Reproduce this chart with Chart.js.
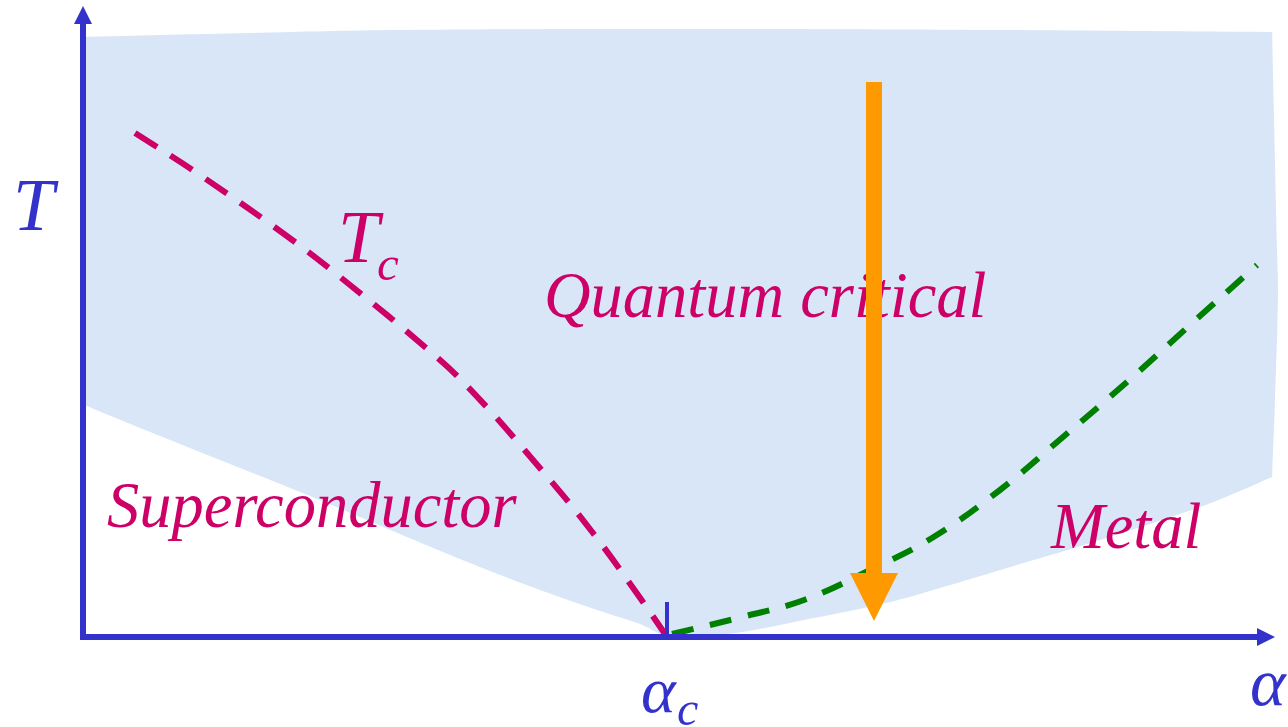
<!DOCTYPE html>
<html>
<head>
<meta charset="utf-8">
<script src="https://cdn.jsdelivr.net/npm/chart.js@4/dist/chart.umd.min.js"></script>
<style>
  html, body { margin: 0; padding: 0; background: #fff; }
  #wrap { width: 1288px; height: 727px; position: relative; }
</style>
</head>
<body>
<div id="wrap"><canvas id="chart"></canvas></div>
<script>
// Schematic phase diagram: alpha on x, T on y (arbitrary units, origin at the axes corner)
const ALPHA_C = 5.83;

// quantum critical region (closed outline, clockwise from top-left)
const qcX = [0.02, 0.05, 1.66, 3.16, 6.16, 9.16, 11.85, 11.88, 11.882, 11.93, 11.94, 11.91, 11.882, 11.88, 11.85,
  11.56, 11.16, 10.16, 9.23, 8.56, 8.02, 7.20, 6.58, 6.16, 5.81,
  5.56, 5.16, 4.56, 3.86, 3.16, 2.26, 1.16, 0.03, 0.0, 0.0, 0.0];
const qcT = [6.00, 6.003, 6.04, 6.07, 6.08, 6.07, 6.05, 6.05, 6.00, 3.87, 3.44, 2.37, 1.64, 1.60, 1.587,
  1.46, 1.30, 0.97, 0.69, 0.49, 0.34, 0.17, 0.05, 0.01, 0.02,
  0.13, 0.26, 0.47, 0.74, 1.03, 1.41, 1.85, 2.31, 2.34, 4.20, 5.97];

// Tc line (superconductor boundary)
const tcX = [0.51, 1.16, 2.11, 2.66, 3.41, 3.84, 4.55, 5.09, 5.59, 5.81];
const tcT = [5.04, 4.62, 3.95, 3.52, 2.90, 2.50, 1.70, 1.04, 0.35, 0.03];

// metal crossover line
const mX = [5.88, 6.58, 7.20, 7.86, 8.48, 9.16, 9.79, 10.43, 11.06, 11.73];
const mT = [0.03, 0.20, 0.37, 0.67, 0.99, 1.47, 2.00, 2.55, 3.12, 3.72];

// orange cooling arrow at fixed alpha
const ARROW_X = 7.90;
const arrowT = [5.55, 0.62];
const headX = [7.66, 8.14, 7.90];
const headT = [0.64, 0.64, 0.16];

// axes
const xAxisX = [-0.04, 11.75];
const yAxisT = [-0.03, 6.15];
const xHeadX = [11.73, 11.73, 11.91];
const xHeadT = [0.09, -0.09, 0.0];
const yHeadX = [-0.10, 0.08, -0.01];
const yHeadT = [6.13, 6.13, 6.31];
const tickT = [0.35, 0.0];

const pts = (xs, ys) => xs.map((x, i) => ({ x, y: ys[i] }));

const BLUE = '#3333cc', MAG = '#cc0066', GREEN = '#008000', ORANGE = '#ff9900', FILL = '#d9e6f8';
const SERIF = "'Liberation Serif', 'Times New Roman', Times, serif";

// text labels, anchored in data units (left, baseline)
const labels = [
  { t: 'T', x: -0.71, y: 4.07, size: 74, color: BLUE },
  { t: 'T', x: 2.54, y: 3.75, size: 74, color: MAG, sub: 'c', subSize: 49, dx: 39, dy: 18 },
  { t: 'Quantum critical', x: 4.60, y: 3.20, size: 64.5, color: MAG },
  { t: 'Superconductor', x: 0.23, y: 1.10, size: 64.5, color: MAG },
  { t: 'Metal', x: 9.67, y: 0.89, size: 64.5, color: MAG },
  { t: '\u03b1', x: 5.57, y: -0.75, size: 66, color: BLUE, sub: 'c', subSize: 48, dx: 36, dy: 13 },
  { t: '\u03b1', x: 11.66, y: -0.68, size: 68, color: BLUE },
];

const labelPlugin = {
  id: 'labels',
  afterDatasetDraw(chart, args) {
    if (args.index !== 0) return;
    const { ctx, scales: { x, y } } = chart;
    ctx.save();
    ctx.textAlign = 'left';
    ctx.textBaseline = 'alphabetic';
    labels.forEach((l) => {
      const px = x.getPixelForValue(l.x), py = y.getPixelForValue(l.y);
      ctx.fillStyle = l.color;
      ctx.font = `italic ${l.size}px ${SERIF}`;
      ctx.fillText(l.t, px, py);
      if (l.sub) {
        ctx.font = `italic ${l.subSize}px ${SERIF}`;
        ctx.fillText(l.sub, px + l.dx, py + l.dy);
      }
    });
    ctx.restore();
  },
};

const line = (data, color, width, extra = {}) => ({
  data, borderColor: color, backgroundColor: color, borderWidth: width,
  showLine: true, pointRadius: 0, fill: false, tension: 0, ...extra,
});

function draw() {
  new Chart(document.getElementById('chart'), {
    type: 'scatter',
    data: {
      datasets: [
        line(pts(qcX, qcT), FILL, 0, { fill: 'shape', backgroundColor: FILL, tension: 0.4, order: 10 }),
        line(pts(tcX, tcT), MAG, 6, { borderDash: [26, 16], tension: 0.4, order: 5, borderCapStyle: 'butt' }),
        line(pts(mX, mT), GREEN, 6, { borderDash: [22, 17], tension: 0.4, order: 5, borderCapStyle: 'butt' }),
        line(pts([ALPHA_C, ALPHA_C], tickT), BLUE, 4, { order: 4 }),
        line(pts(xAxisX, [0, 0]), BLUE, 6, { order: 3 }),
        line(pts([-0.01, -0.01], yAxisT), BLUE, 6, { order: 3 }),
        line(pts(xHeadX, xHeadT), BLUE, 0, { fill: 'shape', order: 3 }),
        line(pts(yHeadX, yHeadT), BLUE, 0, { fill: 'shape', order: 3 }),
        line(pts([ARROW_X, ARROW_X], arrowT), ORANGE, 16, { order: 1 }),
        line(pts(headX, headT), ORANGE, 0, { fill: 'shape', order: 1 }),
      ],
    },
    options: {
      responsive: true, maintainAspectRatio: false, animation: false,
      layout: { padding: 0 },
      plugins: { legend: { display: false }, tooltip: { enabled: false } },
      scales: {
        x: { type: 'linear', display: false, min: -0.84, max: 12.04 },
        y: { type: 'linear', display: false, min: -0.90, max: 6.37 },
      },
    },
    plugins: [labelPlugin],
  });
}

document.fonts.load("italic 64px 'Liberation Serif'", 'Quantum critical αc').catch(() => {}).finally(draw);
</script>
</body>
</html>
